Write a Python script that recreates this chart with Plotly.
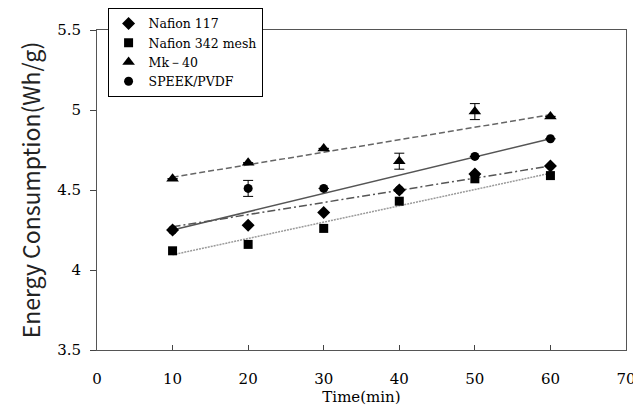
import plotly.graph_objects as go

# ---- data ----
time_min = [10, 20, 30, 40, 50, 60]
series_names = ["Nafion 117", "Nafion 342 mesh", "Mk－40", "SPEEK/PVDF"]
nafion117 = [4.25, 4.28, 4.36, 4.50, 4.60, 4.65]
nafion342 = [4.12, 4.16, 4.26, 4.43, 4.57, 4.59]
mk40 = [4.57, 4.67, 4.76, 4.68, 4.99, 4.96]
speek = [4.25, 4.51, 4.51, 4.50, 4.71, 4.82]
mk40_err = [0, 0, 0, 0.05, 0.05, 0]
speek_err = [0, 0.05, 0, 0, 0, 0]
# linear trend lines (slope, intercept)
trend_slope = [0.0076, 0.0102, 0.0078, 0.0114]
trend_intercept = [4.194, 3.993, 4.502, 4.136]
x_ticks = [0, 10, 20, 30, 40, 50, 60, 70]
y_ticks = [3.5, 4, 4.5, 5, 5.5]

values = [nafion117, nafion342, mk40, speek]
errors = [None, None, mk40_err, speek_err]
symbols = ["diamond", "square", "triangle-up", "circle"]
msizes = [10, 9, 11, 9]
line_styles = [
    dict(color="#555555", width=1.5, dash="8px,3px,2px,3px"),
    dict(color="#9a9a9a", width=1.5, dash="2px,1px"),
    dict(color="#666666", width=1.5, dash="6px,3px"),
    dict(color="#555555", width=1.5, dash="solid"),
]

serif = "DejaVu Serif"
fig = go.Figure()

x0, x1 = min(time_min), max(time_min)
for i in range(4):
    tx = [x0, x1]
    ty = [trend_intercept[i] + trend_slope[i] * t for t in tx]
    fig.add_trace(go.Scatter(x=tx, y=ty, mode="lines", line=line_styles[i],
                             showlegend=False, hoverinfo="skip"))

for i in range(4):
    err = None
    if errors[i] is not None:
        err = dict(type="data", array=errors[i], visible=True,
                   color="black", thickness=1, width=5)
    fig.add_trace(go.Scatter(
        x=time_min, y=values[i], mode="markers", name=series_names[i],
        marker=dict(symbol=symbols[i], size=msizes[i], color="black"),
        error_y=err))

fig.update_layout(
    width=641, height=408,
    margin=dict(l=89, r=23, t=22, b=66, autoexpand=False),
    paper_bgcolor="white", plot_bgcolor="white",
    font=dict(family=serif, size=15, color="black"),
    showlegend=True,
    legend=dict(x=0.02, y=1.069, xanchor="left", yanchor="top",
                bgcolor="white", bordercolor="black", borderwidth=1,
                font=dict(family=serif, size=12.5, color="black"),
                tracegroupgap=0, itemwidth=30),
    xaxis=dict(range=[0, 70], tickvals=x_ticks, ticks="inside", ticklen=5,
               tickcolor="#444", showgrid=False, zeroline=False,
               showline=True, linecolor="#555", linewidth=1, mirror=True,
               tickfont=dict(family=serif, size=15), ticklabelstandoff=15,
               automargin=False,
               title=dict(text="Time(min)", font=dict(family=serif, size=15), standoff=4)),
    yaxis=dict(range=[3.5, 5.5], tickvals=y_ticks, ticks="outside", ticklen=6,
               tickcolor="#444", showgrid=False, zeroline=False,
               showline=True, linecolor="#555", linewidth=1, mirror=True,
               tickfont=dict(family=serif, size=15), ticklabelstandoff=6,
               automargin=False,
               title=dict(text="Energy Consumption(Wh/g)",
                          font=dict(family="Noto Sans CJK KR", size=23, color="#222"),
                          standoff=10)),
)

fig.write_html("out.html")
